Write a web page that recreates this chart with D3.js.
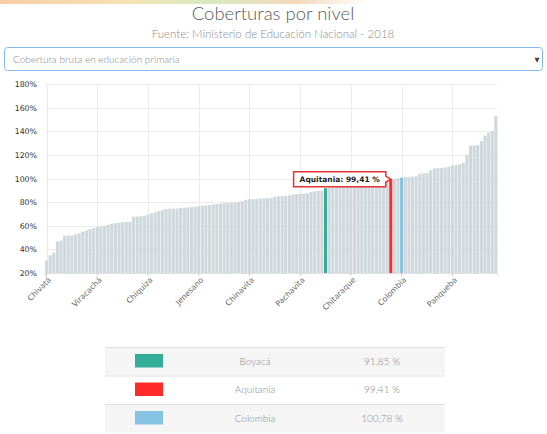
<!DOCTYPE html>
<html>
<head>
<meta charset="utf-8">
<script src="https://cdn.jsdelivr.net/npm/d3@7"></script>
<style>
  body { margin: 0; background: #fff; }
  svg { display: block; }
</style>
</head>
<body>
<svg id="chart" width="547" height="434"></svg>
<script>
// municipios ordenados por cobertura (mas Boyacá y Colombia)
var names = [
  "Chivatá","Tunja","Almeida","Arcabuco","Belén","Berbeo","Betéitiva","Boavita","Boyacá","Briceño","Buenavista","Busbanzá","Caldas","Campohermoso",
  "Viracachá","Cerinza","Chiquinquirá","Chiscas","Chita","Ciénega","Cómbita","Coper","Corrales","Covarachía","Cubará","Cucaita","Cuítiva","Chivor",
  "Chiquiza","Duitama","El Cocuy","El Espino","Firavitoba","Floresta","Gachantivá","Gámeza","Garagoa","Guacamayas","Guateque","Guayatá","Güicán","Iza",
  "Jenesano","Jericó","Labranzagrande","La Capilla","La Victoria","La Uvita","Villa de Leyva","Macanal","Maripí","Miraflores","Mongua","Monguí","Moniquirá","Motavita",
  "Chinavita","Muzo","Nobsa","Nuevo Colón","Oicatá","Otanche","Páez","Paipa","Pajarito","Pauna","Paya","Paz de Río","Pesca","Pisba",
  "Pachavita","Puerto Boyacá","Quípama","Ramiriquí","Ráquira","Rondón","Saboyá",
  "Boyacá",
  "Sáchica","Samacá","San Eduardo","San José de Pare","San Luis de Gaceno","San Mateo",
  "Chitaraque","San Miguel de Sema","San Pablo de Borbur","Santana","Santa María","Santa Rosa de Viterbo","Santa Sofía","Sativanorte","Sativasur","Siachoque","Soatá",
  "Aquitania","Socotá","Socha",
  "Colombia",
  "Sogamoso","Somondoco","Sora","Sotaquirá","Soracá","Susacón","Sutamarchán","Sutatenza","Tasco","Tenza","Tibaná","Tibasosa","Tinjacá",
  "Panqueba","Tipacoque","Toca","Togüí","Tópaga","Tota","Tununguá","Turmequé","Tuta","Tutazá","Úmbita","Ventaquemada","Zetaquira"
];
var values = [
  30.5, 35.0, 37.4, 46.5, 47.4, 51.6, 51.7, 51.8, 52.8, 53.6, 55.0, 56.1, 57.2, 58.0,
  59.0, 59.2, 60.0, 60.9, 61.7, 62.3, 62.6, 63.0, 63.2, 63.4, 67.7, 67.8, 68.0, 68.5,
  69.4, 70.5, 71.5, 72.5, 73.3, 74.2, 74.4, 74.5, 74.6, 75.0, 75.3, 75.5, 75.9, 76.2,
  76.5, 77.0, 77.3, 77.6, 78.1, 78.4, 78.7, 79.0, 79.3, 79.6, 79.8, 80.3, 81.0, 82.0,
  82.4, 82.6, 82.8, 83.1, 83.2, 83.3, 83.4, 84.5, 85.0, 85.2, 85.4, 85.8, 86.5, 86.8,
  87.0, 87.2, 87.5, 88.5, 89.0, 89.4, 89.8,
  91.85,
  92.2, 92.5, 93.0, 93.3, 93.6, 94.0,
  94.3, 94.6, 95.0, 95.4, 95.8, 96.3, 96.8, 97.3, 97.8, 98.3, 98.9,
  99.41, 99.6, 100.1,
  100.78,
  101.2, 101.4, 101.6, 101.8, 104.0, 104.3, 104.6, 107.0, 108.5, 108.8, 109.0, 109.3, 110.0,
  111.2, 111.4, 111.8, 113.3, 120.0, 127.8, 128.0, 128.3, 131.7, 136.3, 138.8, 140.2, 153.0
];
var highlightNames = ["Boyacá", "Aquitania", "Colombia"];
var highlightValues = [91.85, 99.41, 100.78];
var highlightColors = ["#33ae98", "#ff2b2b", "#86c2e2"];
var yTicks = [20, 40, 60, 80, 100, 120, 140, 160, 180];
var tickEvery = 14;
var tooltipName = "Aquitania";

var svg = d3.select("#chart");
var es = d3.formatLocale({decimal: ",", thousands: ".", grouping: [3], currency: ["$", ""]});
var fmt = es.format(".2f");

// franja de color de la cabecera
var grad = svg.append("defs").append("linearGradient").attr("id", "topg");
[["0%", "#f6c08f"], ["35%", "#f3dca0"], ["55%", "#cfe6b0"], ["80%", "#f2d0a8"], ["100%", "#fff"]]
  .forEach(s => grad.append("stop").attr("offset", s[0]).attr("stop-color", s[1]));
svg.append("rect").attr("x", 0).attr("y", 0).attr("width", 370).attr("height", 4).attr("fill", "url(#topg)").attr("opacity", 0.8);

svg.append("text").attr("x", 273).attr("y", 20).attr("text-anchor", "middle")
  .style("font", "300 18.5px Lato, sans-serif").attr("fill", "#5a5a5a").text("Coberturas por nivel");
svg.append("text").attr("x", 273).attr("y", 38).attr("text-anchor", "middle")
  .style("font", "300 11.5px Lato, sans-serif").attr("fill", "#8a8a8a").text("Fuente: Ministerio de Educación Nacional - 2018");

// selector
svg.append("rect").attr("x", 4.5).attr("y", 47.5).attr("width", 538).attr("height", 23).attr("rx", 3)
  .attr("fill", "#fff").attr("stroke", "#86b8e8").attr("stroke-width", 1);
svg.append("text").attr("x", 13).attr("y", 63).style("font", "300 10px Lato, sans-serif").attr("fill", "#888")
  .text("Cobertura bruta en educación primaria");
svg.append("text").attr("x", 537).attr("y", 62).attr("text-anchor", "middle").style("font", "6.5px 'DejaVu Sans', sans-serif")
  .attr("fill", "#444").text("▼");

var x = d3.scaleBand().domain(d3.range(values.length)).range([45, 497.4]).paddingInner(0.15).paddingOuter(0);
var y = d3.scaleLinear().domain([20, 180]).range([273, 84]);
var tickIdx = d3.range(values.length).filter(i => i % tickEvery === 0);

// grilla
svg.append("g").selectAll("line").data(yTicks).join("line")
  .attr("x1", 45).attr("x2", 497.4).attr("y1", d => Math.round(y(d)) + 0.5).attr("y2", d => Math.round(y(d)) + 0.5)
  .attr("stroke", "#ebebeb");
svg.append("g").selectAll("line").data(tickIdx).join("line")
  .attr("x1", i => Math.round(x(i) + x.bandwidth() / 2) + 0.5).attr("x2", i => Math.round(x(i) + x.bandwidth() / 2) + 0.5)
  .attr("y1", 84).attr("y2", 273).attr("stroke", "#ebebeb");

// barras
function colorOf(i) {
  var h = highlightNames.indexOf(names[i]);
  return h >= 0 && highlightValues[h] === values[i] ? highlightColors[h] : "#cfd8dc";
}
svg.append("g").selectAll("rect").data(values).join("rect")
  .attr("x", (d, i) => x(i)).attr("width", x.bandwidth())
  .attr("y", d => y(d)).attr("height", d => y(20) - y(d))
  .attr("fill", (d, i) => colorOf(i));

// ejes
var yAxis = svg.append("g").attr("transform", "translate(45,0)")
  .call(d3.axisLeft(y).tickValues(yTicks).tickFormat(d => d + "%").tickSize(0).tickPadding(8));
yAxis.select(".domain").remove();
yAxis.selectAll("text").style("font", "7.8px 'DejaVu Sans', sans-serif").attr("fill", "#333");

var xAxis = svg.append("g").attr("transform", "translate(0,273)")
  .call(d3.axisBottom(x).tickValues(tickIdx).tickFormat(i => names[i]).tickSize(3).tickPadding(2));
xAxis.select(".domain").attr("stroke", "#e0e0e0");
xAxis.selectAll(".tick line").attr("stroke", "#ccc");
xAxis.selectAll("text").style("font", "7.8px 'DejaVu Sans', sans-serif").attr("fill", "#666")
  .attr("text-anchor", "end").attr("transform", "rotate(-45)").attr("dx", "-0.2em").attr("dy", "0.5em");

// tooltip
var ti = names.indexOf(tooltipName);
var tipX = x(ti) + x.bandwidth() / 2, tipY = y(values[ti]);
var tip = svg.append("g");
var tipPath = tip.append("path").attr("fill", "#fff").attr("stroke", "#e53232").attr("stroke-width", 1.5);
var tipText = tip.append("text").style("font", "bold 7.5px 'DejaVu Sans', sans-serif").attr("fill", "#222")
  .text(tooltipName + ": " + fmt(values[ti]) + " %");
var tw = tipText.node().getComputedTextLength();
var bx1 = tipX - 5, bx0 = bx1 - tw - 12, by0 = tipY - 7.5, by1 = tipY + 7.5;
tipText.attr("x", bx0 + 6).attr("y", tipY + 2.7);
tipPath.attr("d", `M${bx0},${by0}H${bx1}V${tipY - 3}L${tipX},${tipY}L${bx1},${tipY + 3}V${by1}H${bx0}Z`);

// tabla
var rowH = 28.5, tx0 = 105, tx1 = 445, ty0 = 347;
var rows = svg.append("g").selectAll("g").data(highlightNames).join("g")
  .attr("transform", (d, i) => `translate(0,${ty0 + i * rowH})`);
rows.append("rect").attr("x", tx0).attr("width", tx1 - tx0).attr("height", rowH)
  .attr("fill", (d, i) => i % 2 === 0 ? "#f5f5f5" : "#fff");
rows.append("line").attr("x1", tx0).attr("x2", tx1).attr("y1", 0.5).attr("y2", 0.5).attr("stroke", "#dedede");
rows.append("rect").attr("x", 135).attr("y", 7).attr("width", 28).attr("height", 13.5)
  .attr("fill", (d, i) => highlightColors[i]);
rows.append("text").attr("x", 255).attr("y", 17.5).attr("text-anchor", "middle")
  .style("font", "300 10px Lato, sans-serif").attr("fill", "#8a8a8a").text(d => d);
rows.append("text").attr("x", 382).attr("y", 17.5).attr("text-anchor", "middle")
  .style("font", "300 10px Lato, sans-serif").attr("fill", "#8a8a8a").text((d, i) => fmt(highlightValues[i]) + " %");
</script>
</body>
</html>
